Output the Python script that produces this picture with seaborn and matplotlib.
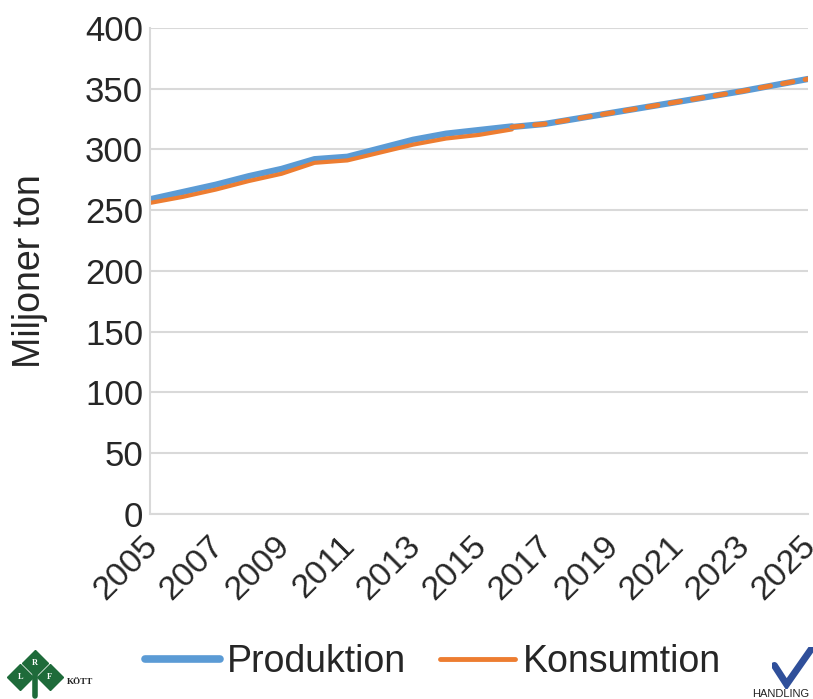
import numpy as np
import pandas as pd
import matplotlib
matplotlib.use('Agg')
import matplotlib.pyplot as plt
import matplotlib.transforms as mtransforms
from matplotlib.lines import Line2D
import seaborn as sns

# data (miljoner ton)
years_hist = [2005, 2006, 2007, 2008, 2009, 2010, 2011, 2012, 2013, 2014, 2015, 2016]
prod_hist = [259, 265, 271, 278, 284, 292, 294, 301, 308, 313, 316, 319]
kons_hist = [256, 261, 267, 274, 280, 289, 291, 297.5, 304, 309, 312, 316.5]

years_proj = [2016, 2017, 2018, 2019, 2020, 2021, 2022, 2023, 2024, 2025]
prod_proj = [318.5, 321, 325.5, 330, 334.5, 339, 343.5, 348, 353, 358]
kons_proj = [318.5, 321, 325.5, 330, 334.5, 339, 343.5, 348, 353, 358]

blue = '#5B9BD5'
orange = '#ED7D31'

sns.set_style('white')
plt.rcParams['font.family'] = ['Liberation Sans', 'DejaVu Sans']

hist = pd.DataFrame({'year': years_hist, 'Produktion': prod_hist, 'Konsumtion': kons_hist})
proj = pd.DataFrame({'year': years_proj, 'Produktion': prod_proj, 'Konsumtion': kons_proj})

fig = plt.figure(figsize=(8.13, 6.99), dpi=100)
ax = fig.add_axes([0.1845, 0.2647, 0.8093, 0.6953])

sns.lineplot(data=hist, x='year', y='Produktion', color=blue, lw=4.5, ax=ax)
sns.lineplot(data=hist, x='year', y='Konsumtion', color=orange, lw=3, ax=ax)
sns.lineplot(data=proj, x='year', y='Produktion', color=blue, lw=4.5, ax=ax)
ax.plot(proj['year'], proj['Konsumtion'], color=orange, lw=3.5, ls=(0, (2.2, 2.5)),
        solid_capstyle='round', dash_capstyle='round')

ax.set_xlim(2005, 2025)
ax.set_ylim(0, 400)
ax.set_yticks(range(0, 401, 50))
ax.set_xticks(range(2005, 2026, 2))
ax.tick_params(axis='y', labelsize=25, length=0, pad=5)
ax.tick_params(axis='x', labelsize=24.5, length=0, pad=12, rotation=45)
shift = mtransforms.ScaledTranslation(-0.08, 0, fig.dpi_scale_trans)
for lab in ax.get_xticklabels():
    lab.set_ha('right')
    lab.set_rotation_mode('anchor')
    lab.set_transform(lab.get_transform() + shift)
ax.set_xlabel('')
ax.set_ylabel('Miljoner ton', fontsize=27)
ax.yaxis.set_label_coords(-0.155, 0.5)
ax.grid(axis='y', color='#D9D9D9', lw=1.5)
for s in ['top', 'right']:
    ax.spines[s].set_visible(False)
for s in ['left', 'bottom']:
    ax.spines[s].set_color('#D9D9D9')
    ax.spines[s].set_linewidth(1.5)

handles = [Line2D([], [], color=blue, lw=5.5), Line2D([], [], color=orange, lw=3.5)]
fig.legend(handles, ['Produktion', 'Konsumtion'], loc='center', bbox_to_anchor=(0.532, 0.053),
           ncol=2, frameon=False, fontsize=27, handlelength=2.0, columnspacing=0.9,
           handletextpad=0.2, borderpad=0)

# logos at the bottom corners (LRF Kött left, Handling right)
logo = fig.add_axes([0.0, 0.0, 0.09, 0.075])
logo.set_xlim(0, 1)
logo.set_ylim(0, 1)
logo.axis('off')
green = '#1E6B3A'
logo.plot([0.48], [0.68], marker='D', ms=13, color=green)
logo.plot([0.28], [0.42], marker='D', ms=13, color=green)
logo.plot([0.68], [0.42], marker='D', ms=13, color=green)
logo.plot([0.48, 0.48], [0.05, 0.45], color=green, lw=4)
for lx, ly, lt in [(0.48, 0.68, 'R'), (0.28, 0.42, 'L'), (0.68, 0.42, 'F')]:
    logo.text(lx, ly, lt, color='white', fontsize=6, ha='center', va='center',
              family='Liberation Serif', fontweight='bold')
fig.text(0.082, 0.022, 'KÖTT', fontsize=6.5, fontweight='bold', family='Liberation Serif', color='#222222')

chk = fig.add_axes([0.95, 0.015, 0.05, 0.06])
chk.set_xlim(0, 1)
chk.set_ylim(0, 1)
chk.axis('off')
chk.plot([0.05, 0.35, 1.0], [0.55, 0.1, 1.0], color='#2F4F9A', lw=5, solid_joinstyle='miter')
fig.text(0.925, 0.0, 'HANDLING', fontsize=8, va='bottom', color='#222222')

fig.savefig('out.png', dpi=100)
